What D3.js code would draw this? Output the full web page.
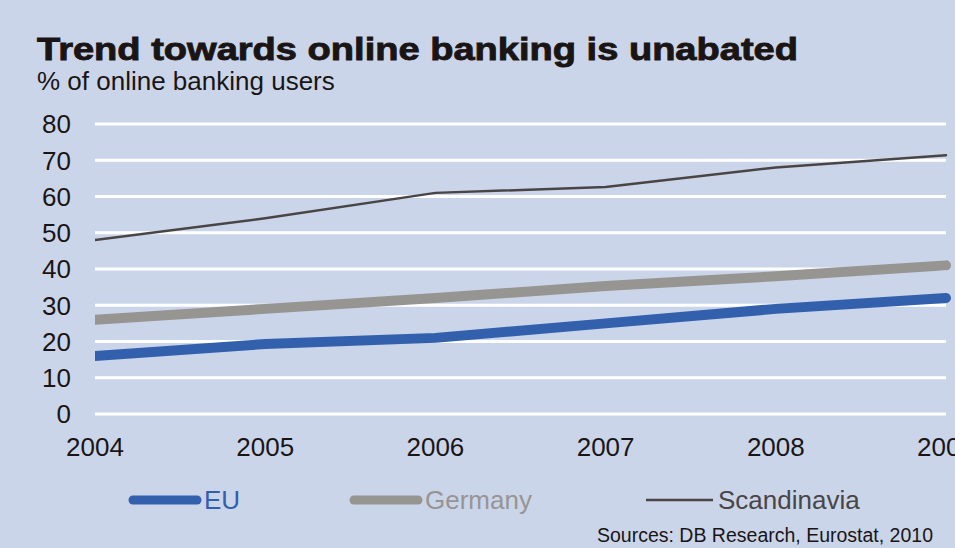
<!DOCTYPE html>
<html>
<head>
<meta charset="utf-8">
<script src="https://cdn.jsdelivr.net/npm/d3@7"></script>
<style>
  body { margin: 0; background: #cbd5ea; }
  svg text { font-family: "Liberation Sans", Arial, sans-serif; fill: #1a1514; }
</style>
</head>
<body>
<svg id="chart" width="955" height="548"></svg>
<script>
var years = [2004, 2005, 2006, 2007, 2008, 2009];
var eu = [16, 19.3, 21, 25, 29, 32];
var germany = [26, 29, 32, 35.3, 38, 41];
var scandinavia = [48, 54, 61, 62.6, 68, 71.4];
var yTicks = [0, 10, 20, 30, 40, 50, 60, 70, 80];

var series = [
  { name: "EU", values: eu, color: "#3360ad", width: 10 },
  { name: "Germany", values: germany, color: "#979592", width: 10 },
  { name: "Scandinavia", values: scandinavia, color: "#4a4545", width: 2.5 }
];

var svg = d3.select("#chart");
svg.append("rect").attr("width", 955).attr("height", 548).attr("fill", "#cbd5ea");

var x = d3.scaleLinear().domain([2004, 2009]).range([95, 946]);
var y = d3.scaleLinear().domain([0, 80]).range([414, 124]);

// title
svg.append("text").attr("x", 37).attr("y", 60)
   .style("font-size", "32px").style("font-weight", "900")
   .attr("textLength", 761).attr("lengthAdjust", "spacingAndGlyphs")
   .style("stroke", "#1a1514").style("stroke-width", "0.9px")
   .text("Trend towards online banking is unabated");
svg.append("text").attr("x", 37).attr("y", 90)
   .style("font-size", "26px")
   .text("% of online banking users");

// grid
svg.append("g").selectAll("line").data(yTicks).join("line")
   .attr("x1", x(2004)).attr("x2", x(2009))
   .attr("y1", d => y(d)).attr("y2", d => y(d))
   .attr("stroke", "#fff").attr("stroke-width", 3);

// y labels
svg.append("g").selectAll("text").data(yTicks).join("text")
   .attr("x", 71).attr("y", d => y(d)).attr("dy", "0.36em")
   .attr("text-anchor", "end").style("font-size", "26px")
   .text(d => d);

// x labels
svg.append("g").selectAll("text").data(years).join("text")
   .attr("x", d => x(d)).attr("y", 456)
   .attr("text-anchor", "middle").style("font-size", "26px")
   .text(d => d);

svg.append("clipPath").attr("id", "plotclip")
   .append("rect").attr("x", x(2004)).attr("y", 0).attr("width", 900).attr("height", 548);

var line = d3.line().x((d, i) => x(years[i])).y(d => y(d));
svg.append("g").attr("clip-path", "url(#plotclip)")
   .selectAll("path").data(series).join("path")
   .attr("d", d => line(d.values))
   .attr("fill", "none").attr("stroke", d => d.color)
   .attr("stroke-width", d => d.width)
   .attr("stroke-linecap", "round").attr("stroke-linejoin", "round");

// legend
var legX = [133, 354, 646];
var leg = svg.append("g").selectAll("g").data(series).join("g")
   .attr("transform", (d, i) => "translate(" + legX[i] + ",500)");
leg.append("line").attr("x1", 0).attr("x2", d => d.width > 5 ? 64 : 67)
   .attr("stroke", d => d.color).attr("stroke-width", d => d.width > 5 ? 9 : 2.5)
   .attr("stroke-linecap", d => d.width > 5 ? "round" : "butt");
leg.append("text").attr("x", d => d.width > 5 ? 71 : 72).attr("dy", "0.36em")
   .style("font-size", "26px").style("fill", d => d.color)
   .text(d => d.name);

svg.append("text").attr("x", 933).attr("y", 542).attr("text-anchor", "end")
   .style("font-size", "19.5px")
   .text("Sources: DB Research, Eurostat, 2010");
</script>
</body>
</html>
